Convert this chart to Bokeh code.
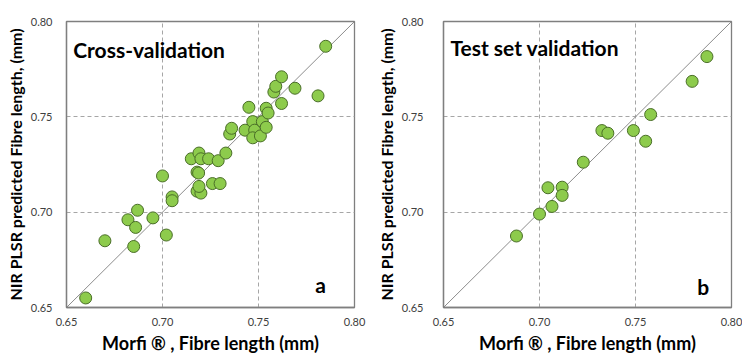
from bokeh.plotting import figure
from bokeh.layouts import row
from bokeh.models import Range1d, FixedTicker, NumeralTickFormatter, Label, ColumnDataSource
from bokeh.embed import file_html
from bokeh.resources import INLINE

axis_ticks = [0.65, 0.70, 0.75, 0.80]
axis_range = [0.65, 0.80]

cv_measured = [0.660, 0.670, 0.682, 0.687, 0.686, 0.685, 0.695, 0.700, 0.702, 0.705,
               0.705, 0.715, 0.719, 0.720, 0.724, 0.718, 0.7188, 0.718, 0.720, 0.719,
               0.726, 0.730, 0.729, 0.733, 0.735, 0.736, 0.743, 0.745, 0.747, 0.748,
               0.747, 0.751, 0.752, 0.754, 0.754, 0.755, 0.758, 0.759, 0.762, 0.762,
               0.769, 0.781, 0.785]
cv_predicted = [0.655, 0.685, 0.696, 0.701, 0.692, 0.682, 0.697, 0.719, 0.688, 0.708,
                0.706, 0.728, 0.731, 0.728, 0.728, 0.721, 0.7205, 0.711, 0.710, 0.7135,
                0.715, 0.715, 0.727, 0.731, 0.741, 0.744, 0.743, 0.755, 0.7475, 0.743,
                0.739, 0.740, 0.7475, 0.7445, 0.7545, 0.752, 0.763, 0.766, 0.757, 0.771,
                0.765, 0.761, 0.787]

test_measured = [0.688, 0.700, 0.7065, 0.7044, 0.7118, 0.7118, 0.7228, 0.7325, 0.7356,
                 0.7489, 0.7553, 0.7579, 0.7795, 0.7872]
test_predicted = [0.6875, 0.699, 0.703, 0.7128, 0.7131, 0.7088, 0.7262, 0.7428, 0.7414,
                  0.7428, 0.7372, 0.7512, 0.7686, 0.7816]

FONT = "Lato"
FILL = "#8DCB4C"
EDGE = "#4A6E28"


def make_panel(xs, ys, title, letter, border_left, border_right, border_top, label_standoff,
               title_x, title_y, letter_x, letter_y):
    p = figure(frame_width=288, frame_height=286, output_backend="svg", toolbar_location=None,
               x_range=Range1d(axis_range[0], axis_range[1]),
               y_range=Range1d(axis_range[0], axis_range[1]),
               min_border_left=border_left, min_border_right=border_right,
               min_border_top=border_top, min_border_bottom=46)
    p.background_fill_color = "white"
    p.border_fill_color = "white"
    p.outline_line_color = "#7F7F7F"
    p.outline_line_width = 1.3

    for ax in (p.xaxis[0], p.yaxis[0]):
        ax.ticker = FixedTicker(ticks=axis_ticks)
        ax.formatter = NumeralTickFormatter(format="0.00")
        ax.major_tick_out = 0
        ax.major_tick_in = 0
        ax.minor_tick_out = 0
        ax.minor_tick_in = 0
        ax.axis_line_color = "#7F7F7F"
        ax.axis_line_width = 1.3
        ax.major_label_text_font = FONT
        ax.major_label_text_font_size = "11px"
        ax.major_label_text_color = "#404040"
        ax.axis_label_text_font = FONT
        ax.axis_label_text_font_style = "bold"
        ax.axis_label_text_color = "#000000"

    p.xaxis[0].axis_label = "Morfi \u00ae , Fibre length (mm)"
    p.yaxis[0].axis_label = "NIR PLSR predicted Fibre length, (mm)"
    p.xaxis[0].axis_label_text_font_size = "18px"
    p.yaxis[0].axis_label_text_font_size = "16px"
    p.xaxis[0].major_label_standoff = 10
    p.xaxis[0].axis_label_standoff = 3
    p.yaxis[0].major_label_standoff = label_standoff
    p.yaxis[0].axis_label_standoff = 3

    p.grid.grid_line_color = "#A6A6A6"
    p.grid.grid_line_dash = "4 3"
    p.grid.grid_line_width = 1

    p.line(axis_range, axis_range, line_color="#8C8C8C", line_width=1)

    src = ColumnDataSource(dict(x=xs, y=ys))
    p.scatter("x", "y", source=src, size=12, fill_color=FILL, line_color=EDGE, line_width=1)

    p.add_layout(Label(x=title_x, y=title_y, text=title, text_font=FONT,
                       text_font_style="bold", text_font_size="21px",
                       text_baseline="middle", text_align="left", text_color="#000000"))
    p.add_layout(Label(x=letter_x, y=letter_y, text=letter, text_font=FONT,
                       text_font_style="bold", text_font_size="21px",
                       text_baseline="middle", text_align="center", text_color="#000000"))
    return p


p1 = make_panel(cv_measured, cv_predicted, "Cross-validation", "a", 66, 17, 20, 14,
                0.6535, 0.7855, 0.7823, 0.662)
p2 = make_panel(test_measured, test_predicted, "Test set validation", "b", 72, 11, 21, 20,
                0.6536, 0.7864, 0.7853, 0.6608)

layout = row(p1, p2, spacing=0)
open("out.html", "w").write(file_html(layout, INLINE))
